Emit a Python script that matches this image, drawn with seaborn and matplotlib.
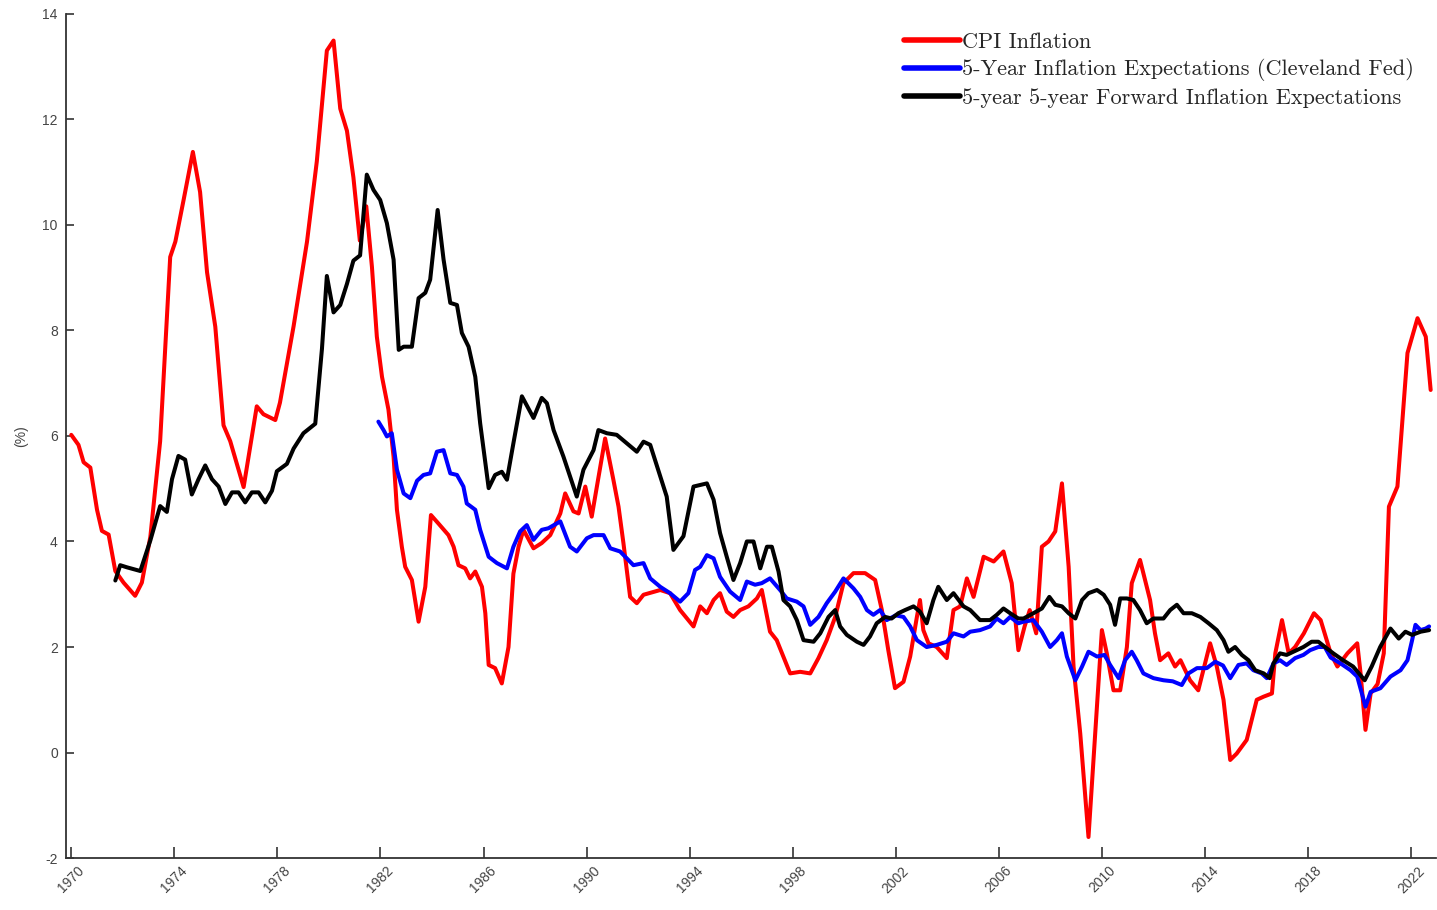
import numpy as np
import pandas as pd
import matplotlib
matplotlib.use('Agg')
import matplotlib.pyplot as plt
import seaborn as sns

# CPI inflation (year, %)
cpi_dates = [1970.0, 1970.28, 1970.48, 1970.74, 1971.0, 1971.19, 1971.45, 1971.71, 1972.03, 1972.48,
             1972.74, 1973.07, 1973.45, 1973.84, 1974.04, 1974.36, 1974.72, 1975.0, 1975.27, 1975.59,
             1975.91, 1976.17, 1976.69, 1977.2, 1977.46, 1977.92, 1978.1, 1978.63, 1979.15, 1979.53,
             1979.92, 1980.18, 1980.44, 1980.7, 1980.95, 1981.2, 1981.45, 1981.67, 1981.86, 1982.06,
             1982.31, 1982.51, 1982.64, 1982.83, 1982.96, 1983.22, 1983.48, 1983.74, 1983.96, 1984.25,
             1984.64, 1984.84, 1985.03, 1985.29, 1985.48, 1985.68, 1985.94, 1986.07, 1986.2, 1986.45,
             1986.71, 1986.97, 1987.16, 1987.36, 1987.55, 1987.94, 1988.26, 1988.59, 1988.98, 1989.17,
             1989.49, 1989.69, 1989.95, 1990.2, 1990.72, 1991.04, 1991.24, 1991.43, 1991.69, 1991.95,
             1992.21, 1992.86, 1993.24, 1993.63, 1994.15, 1994.41, 1994.67, 1994.93, 1995.18, 1995.44,
             1995.7, 1995.96, 1996.28, 1996.61, 1996.8, 1997.12, 1997.38, 1997.9, 1998.29, 1998.68,
             1999.0, 1999.32, 1999.65, 1999.97, 2000.36, 2000.81, 2001.2, 2001.46, 2001.71, 2001.97,
             2002.3, 2002.56, 2002.82, 2002.94, 2003.07, 2003.27, 2003.59, 2003.98, 2004.24, 2004.5,
             2004.76, 2005.02, 2005.41, 2005.8, 2006.18, 2006.5, 2006.76, 2007.0, 2007.2, 2007.45,
             2007.67, 2007.93, 2008.19, 2008.45, 2008.71, 2008.9, 2009.16, 2009.48, 2009.74, 2010.0,
             2010.19, 2010.45, 2010.71, 2010.97, 2011.16, 2011.48, 2011.87, 2012.06, 2012.26, 2012.58,
             2012.84, 2013.05, 2013.42, 2013.74, 2014.2, 2014.46, 2014.72, 2014.98, 2015.23, 2015.62,
             2016.01, 2016.28, 2016.6, 2016.73, 2016.99, 2017.25, 2017.5, 2017.84, 2018.23, 2018.49,
             2018.88, 2019.14, 2019.53, 2019.91, 2020.04, 2020.23, 2020.43, 2020.7, 2020.94, 2021.14,
             2021.47, 2021.86, 2022.25, 2022.57, 2022.76]
cpi_values = [6.02, 5.83, 5.5, 5.4, 4.6, 4.2, 4.13, 3.44, 3.22, 2.97,
              3.22, 4.09, 5.9, 9.39, 9.68, 10.47, 11.38, 10.62, 9.1, 8.07,
              6.2, 5.9, 5.03, 6.56, 6.41, 6.3, 6.63, 8.08, 9.68, 11.2,
              13.3, 13.49, 12.2, 11.78, 10.9, 9.7, 10.35, 9.2, 7.88, 7.12,
              6.5, 5.6, 4.6, 3.9, 3.52, 3.27, 2.48, 3.14, 4.5, 4.34,
              4.12, 3.9, 3.55, 3.49, 3.3, 3.43, 3.14, 2.64, 1.66, 1.6,
              1.31, 2.0, 3.39, 3.9, 4.22, 3.87, 3.97, 4.12, 4.53, 4.91,
              4.57, 4.53, 5.04, 4.47, 5.95, 5.17, 4.66, 3.97, 2.95, 2.83,
              2.99, 3.08, 3.02, 2.7, 2.39, 2.77, 2.64, 2.89, 3.02, 2.67,
              2.57, 2.7, 2.77, 2.92, 3.08, 2.29, 2.13, 1.5, 1.53, 1.5,
              1.79, 2.13, 2.57, 3.21, 3.4, 3.4, 3.27, 2.7, 1.94, 1.22,
              1.34, 1.82, 2.57, 2.89, 2.32, 2.07, 2.0, 1.79, 2.7, 2.77,
              3.3, 2.95, 3.71, 3.62, 3.81, 3.21, 1.94, 2.39, 2.7, 2.26,
              3.9, 4.0, 4.19, 5.1, 3.52, 1.63, 0.36, -1.6, 0.36, 2.32,
              1.88, 1.18, 1.18, 2.0, 3.21, 3.65, 2.89, 2.26, 1.75, 1.88,
              1.63, 1.75, 1.37, 1.18, 2.07, 1.63, 1.0, -0.14, -0.02, 0.24,
              1.0, 1.06, 1.12, 1.88, 2.51, 1.88, 2.0, 2.26, 2.64, 2.51,
              1.88, 1.63, 1.88, 2.07, 1.5, 0.43, 1.12, 1.3, 1.88, 4.66,
              5.04, 7.57, 8.23, 7.88, 6.87]

# 5-year inflation expectations, Cleveland Fed
cle_dates = [1981.92, 1982.12, 1982.25, 1982.44, 1982.64, 1982.9, 1983.16, 1983.42, 1983.67, 1983.93,
             1984.19, 1984.45, 1984.71, 1984.97, 1985.22, 1985.35, 1985.68, 1985.87, 1986.2, 1986.52,
             1986.91, 1987.16, 1987.42, 1987.68, 1987.94, 1988.26, 1988.52, 1988.98, 1989.36, 1989.62,
             1990.01, 1990.27, 1990.66, 1990.92, 1991.3, 1991.56, 1991.82, 1992.21, 1992.47, 1992.86,
             1993.24, 1993.63, 1993.95, 1994.21, 1994.41, 1994.67, 1994.93, 1995.18, 1995.57, 1995.96,
             1996.22, 1996.54, 1996.8, 1997.12, 1997.51, 1997.77, 1998.16, 1998.42, 1998.68, 1999.0,
             1999.32, 1999.65, 1999.97, 2000.36, 2000.62, 2000.88, 2001.13, 2001.39, 2001.65, 2002.0,
             2002.3, 2002.56, 2002.82, 2003.2, 2003.59, 2003.98, 2004.24, 2004.63, 2004.89, 2005.27,
             2005.66, 2005.92, 2006.18, 2006.44, 2006.76, 2006.96, 2007.34, 2007.67, 2007.99, 2008.25,
             2008.45, 2008.64, 2008.97, 2009.23, 2009.48, 2009.81, 2010.1, 2010.32, 2010.65, 2010.9,
             2011.16, 2011.35, 2011.61, 2012.0, 2012.39, 2012.75, 2013.1, 2013.36, 2013.69, 2014.07,
             2014.4, 2014.7, 2014.98, 2015.3, 2015.62, 2015.88, 2016.2, 2016.4, 2016.66, 2016.91,
             2017.17, 2017.5, 2017.82, 2018.08, 2018.4, 2018.65, 2018.88, 2019.26, 2019.65, 2019.91,
             2020.23, 2020.43, 2020.81, 2021.2, 2021.59, 2021.86, 2022.04, 2022.17, 2022.37, 2022.57,
             2022.7]
cle_values = [6.27, 6.11, 5.99, 6.05, 5.36, 4.91, 4.82, 5.15, 5.26, 5.29,
              5.7, 5.73, 5.29, 5.26, 5.04, 4.72, 4.6, 4.22, 3.71, 3.59,
              3.49, 3.9, 4.19, 4.31, 4.03, 4.22, 4.25, 4.38, 3.9, 3.81,
              4.06, 4.12, 4.12, 3.87, 3.81, 3.68, 3.55, 3.59, 3.3, 3.14,
              3.02, 2.86, 3.02, 3.46, 3.52, 3.74, 3.68, 3.33, 3.05, 2.89,
              3.24, 3.18, 3.21, 3.3, 3.08, 2.92, 2.86, 2.77, 2.42, 2.57,
              2.83, 3.05, 3.3, 3.11, 2.95, 2.7, 2.61, 2.7, 2.51, 2.6,
              2.57, 2.39, 2.13, 2.0, 2.04, 2.1, 2.26, 2.2, 2.29, 2.32,
              2.39, 2.54, 2.45, 2.57, 2.45, 2.48, 2.51, 2.29, 2.0, 2.13,
              2.26, 1.82, 1.37, 1.63, 1.91, 1.82, 1.85, 1.66, 1.41, 1.75,
              1.91, 1.75, 1.5, 1.41, 1.37, 1.35, 1.28, 1.5, 1.6, 1.6,
              1.72, 1.65, 1.41, 1.66, 1.69, 1.56, 1.5, 1.41, 1.69, 1.75,
              1.66, 1.79, 1.85, 1.94, 2.0, 2.0, 1.8, 1.69, 1.56, 1.44,
              0.87, 1.15, 1.22, 1.44, 1.56, 1.75, 2.13, 2.42, 2.32, 2.35,
              2.39]

# 5-year 5-year forward inflation expectations
fwd_dates = [1971.71, 1971.9, 1972.16, 1972.68, 1973.07, 1973.45, 1973.71, 1973.91, 1974.16, 1974.42,
             1974.68, 1974.94, 1975.2, 1975.46, 1975.72, 1975.98, 1976.24, 1976.49, 1976.75, 1977.01,
             1977.27, 1977.53, 1977.79, 1977.98, 1978.37, 1978.63, 1979.01, 1979.47, 1979.73, 1979.92,
             1980.18, 1980.44, 1980.7, 1980.95, 1981.21, 1981.47, 1981.73, 1981.99, 1982.25, 1982.51,
             1982.71, 1982.9, 1983.22, 1983.48, 1983.74, 1983.93, 1984.22, 1984.45, 1984.71, 1984.97,
             1985.16, 1985.42, 1985.68, 1985.87, 1986.2, 1986.45, 1986.71, 1986.91, 1987.16, 1987.49,
             1987.94, 1988.26, 1988.46, 1988.72, 1989.1, 1989.62, 1989.88, 1990.27, 1990.46, 1990.79,
             1991.17, 1991.56, 1991.95, 1992.21, 1992.47, 1993.11, 1993.37, 1993.76, 1994.15, 1994.67,
             1994.93, 1995.18, 1995.44, 1995.7, 1995.96, 1996.22, 1996.48, 1996.74, 1997.0, 1997.19,
             1997.45, 1997.64, 1997.9, 1998.16, 1998.42, 1998.81, 1999.07, 1999.39, 1999.65, 1999.84,
             2000.1, 2000.49, 2000.75, 2001.0, 2001.26, 2001.59, 2001.84, 2002.1, 2002.36, 2002.69,
             2002.94, 2003.2, 2003.46, 2003.65, 2003.98, 2004.24, 2004.63, 2004.89, 2005.27, 2005.66,
             2005.92, 2006.18, 2006.44, 2006.76, 2006.96, 2007.34, 2007.67, 2007.96, 2008.19, 2008.45,
             2008.71, 2008.97, 2009.23, 2009.48, 2009.81, 2010.07, 2010.32, 2010.51, 2010.71, 2010.97,
             2011.22, 2011.48, 2011.74, 2012.0, 2012.39, 2012.65, 2012.91, 2013.17, 2013.49, 2013.82,
             2014.14, 2014.46, 2014.72, 2014.91, 2015.17, 2015.43, 2015.69, 2015.95, 2016.28, 2016.51,
             2016.66, 2016.91, 2017.17, 2017.56, 2017.82, 2018.14, 2018.4, 2018.66, 2018.98, 2019.36,
             2019.75, 2020.2, 2020.47, 2020.8, 2021.2, 2021.52, 2021.78, 2022.04, 2022.37, 2022.7]
fwd_values = [3.26, 3.55, 3.51, 3.44, 4.02, 4.67, 4.56, 5.18, 5.62, 5.55,
              4.89, 5.18, 5.44, 5.18, 5.04, 4.71, 4.93, 4.93, 4.74, 4.93,
              4.93, 4.74, 4.96, 5.33, 5.47, 5.76, 6.05, 6.23, 7.65, 9.03,
              8.34, 8.48, 8.88, 9.32, 9.42, 10.95, 10.66, 10.47, 10.03, 9.34,
              7.63, 7.69, 7.69, 8.61, 8.71, 8.96, 10.28, 9.34, 8.52, 8.48,
              7.95, 7.69, 7.12, 6.24, 5.01, 5.26, 5.32, 5.17, 5.86, 6.75,
              6.34, 6.72, 6.62, 6.11, 5.61, 4.85, 5.36, 5.73, 6.11, 6.05,
              6.02, 5.86, 5.7, 5.89, 5.83, 4.85, 3.84, 4.1, 5.04, 5.1,
              4.79, 4.16, 3.71, 3.27, 3.59, 4.0, 4.0, 3.49, 3.9, 3.9,
              3.43, 2.89, 2.77, 2.51, 2.13, 2.1, 2.26, 2.57, 2.7, 2.39,
              2.23, 2.1, 2.04, 2.2, 2.45, 2.57, 2.54, 2.64, 2.7, 2.77,
              2.67, 2.45, 2.89, 3.14, 2.89, 3.02, 2.77, 2.7, 2.51, 2.51,
              2.61, 2.73, 2.64, 2.54, 2.54, 2.64, 2.73, 2.95, 2.8, 2.77,
              2.64, 2.54, 2.89, 3.02, 3.08, 2.99, 2.8, 2.42, 2.92, 2.92,
              2.89, 2.7, 2.45, 2.54, 2.54, 2.7, 2.8, 2.64, 2.64, 2.57,
              2.45, 2.32, 2.13, 1.91, 2.0, 1.85, 1.75, 1.56, 1.5, 1.41,
              1.69, 1.88, 1.85, 1.94, 2.0, 2.1, 2.1, 2.0, 1.88, 1.75,
              1.63, 1.37, 1.63, 2.0, 2.35, 2.16, 2.29, 2.23, 2.29, 2.32]

labels = ['CPI Inflation',
          '5-Year Inflation Expectations (Cleveland Fed)',
          '5-year 5-year Forward Inflation Expectations']
colors = ['#ff0000', '#0000ff', '#000000']
year_ticks = list(range(1970, 2023, 4))
y_ticks = list(range(-2, 15, 2))

sns.set_style('ticks')
plt.rcParams['font.family'] = ['Liberation Sans', 'DejaVu Sans']

fig = plt.figure(figsize=(14.37, 9.10), dpi=100)
ax = fig.add_axes([0.046, 0.057, 0.953, 0.928])

series = [(cpi_dates, cpi_values), (cle_dates, cle_values), (fwd_dates, fwd_values)]
for (d, v), lab, col in zip(series, labels, colors):
    df = pd.DataFrame({'date': d, 'value': v})
    sns.lineplot(data=df, x='date', y='value', ax=ax, color=col, lw=2.9,
                 label=lab, estimator=None, sort=False)

ax.set_xlim(1969.8, 2022.95)
ax.set_ylim(-2, 14)
ax.set_xticks(year_ticks)
ax.set_xticklabels([str(y) for y in year_ticks], rotation=45, fontsize=10, color='#444444')
ax.set_yticks(y_ticks)
ax.set_yticklabels([str(t) for t in y_ticks], fontsize=10, color='#444444')
ax.tick_params(axis='x', direction='in', length=8, width=1.2, color='#333333', pad=4)
ax.tick_params(axis='y', direction='in', length=6, width=1.2, color='#333333', pad=6)
ax.set_xlabel('')
ax.set_ylabel('(%)', fontsize=10, color='#444444', labelpad=10)
sns.despine(ax=ax)
for s in ['left', 'bottom']:
    ax.spines[s].set_linewidth(1.3)
    ax.spines[s].set_color('#333333')

leg = ax.legend(loc='upper left', bbox_to_anchor=(0.612, 0.978), frameon=False,
                handlelength=2.5, handletextpad=0.1, labelspacing=0.3,
                borderpad=0, borderaxespad=0,
                prop={'family': 'cmr10', 'size': 16})
for h in leg.get_lines():
    h.set_linewidth(4)

fig.savefig('out.png', dpi=100)
